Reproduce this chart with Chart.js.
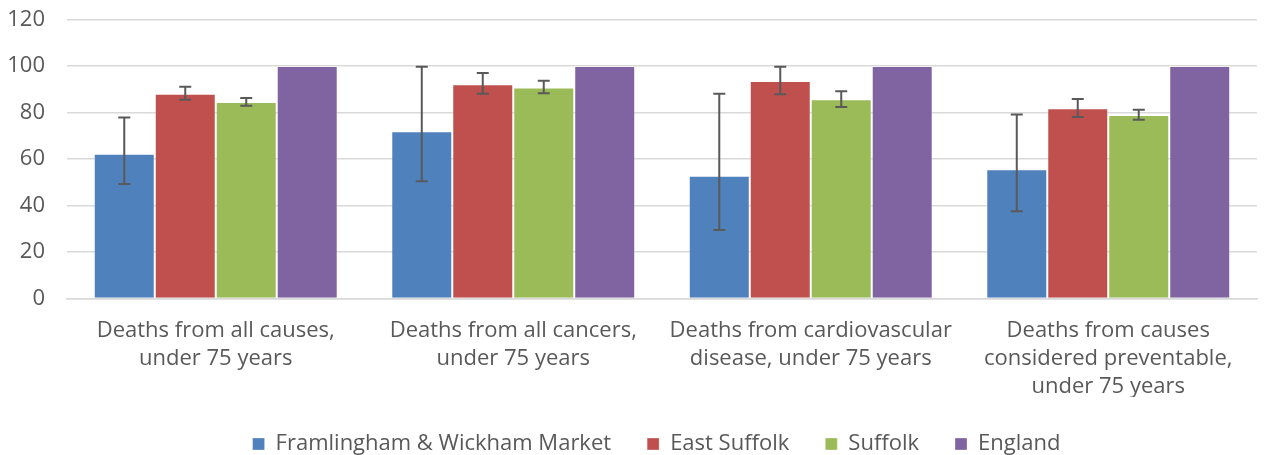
<!DOCTYPE html>
<html>
<head>
<meta charset="utf-8">
<script src="https://cdn.jsdelivr.net/npm/chart.js@4/dist/chart.umd.min.js"></script>
<style>
  html, body { margin: 0; padding: 0; background: #fff; }
  #wrap { width: 1285px; height: 455px; }
</style>
</head>
<body>
<div id="wrap"><canvas id="chart" width="1285" height="455"></canvas></div>
<script>
// categories (multi-line labels)
const categories = [
	['Deaths from all causes,', 'under 75 years'],
	['Deaths from all cancers,', 'under 75 years'],
	['Deaths from cardiovascular', 'disease, under 75 years'],
	['Deaths from causes', 'considered preventable,', 'under 75 years']
];

const seriesNames = ['Framlingham & Wickham Market', 'East Suffolk', 'Suffolk', 'England'];

// values
const framlingham = [62.3, 71.9, 52.8, 55.6];
const eastSuffolk = [88.1, 92.1, 93.5, 81.8];
const suffolk = [84.5, 90.8, 85.7, 78.9];
const england = [100, 100, 100, 100];

// confidence intervals
const framlinghamLow = [49.2, 50.4, 29.5, 37.5];
const framlinghamHigh = [77.9, 99.7, 88.1, 79.1];
const eastSuffolkLow = [85.5, 88.1, 87.8, 78.1];
const eastSuffolkHigh = [91.1, 97.0, 99.7, 85.8];
const suffolkLow = [82.9, 88.3, 82.4, 76.9];
const suffolkHigh = [86.2, 93.7, 89.1, 81.2];

const yTicks = [0, 20, 40, 60, 80, 100, 120];

const colors = ['#4F81BD', '#C0504D', '#9BBB59', '#8064A2'];

const errorBars = {
	id: 'errorBars',
	afterDatasetsDraw(chart){
		const ctx = chart.ctx;
		const y = chart.scales.y;
		ctx.save();
		ctx.strokeStyle = '#595959';
		ctx.lineWidth = 2;
		chart.data.datasets.forEach((ds, i) => {
			if(!ds.errLow) return;
			const meta = chart.getDatasetMeta(i);
			meta.data.forEach((bar, j) => {
				const x = bar.x;
				const top = y.getPixelForValue(ds.errHigh[j]);
				const bottom = y.getPixelForValue(ds.errLow[j]);
				ctx.beginPath();
				ctx.moveTo(x, top); ctx.lineTo(x, bottom);
				ctx.moveTo(x - 6, top); ctx.lineTo(x + 6, top);
				ctx.moveTo(x - 6, bottom); ctx.lineTo(x + 6, bottom);
				ctx.stroke();
			});
		});
		ctx.restore();
	}
};

// squeeze the legend box so it sits near the bottom edge, and nudge it right
const legendFit = {
	id: 'legendFit',
	beforeInit(chart){
		const orig = chart.legend.fit;
		chart.legend.fit = function(){
			orig.bind(chart.legend)();
			this.height = 58;
		};
	},
	afterLayout(chart){
		chart.legend.left += 25;
		chart.legend.right += 25;
	}
};

function makeSet(i, data, low, high){
	return {
		label: seriesNames[i],
		data: data,
		errLow: low,
		errHigh: high,
		backgroundColor: colors[i],
		borderColor: 'rgba(255,255,255,0.3)',
		borderWidth: 1,
		categoryPercentage: 0.82,
		barPercentage: 1.0
	};
}

Chart.defaults.font.family = '"Open Sans", sans-serif';
Chart.defaults.color = '#595959';

new Chart(document.getElementById('chart'), {
	type: 'bar',
	data: {
		labels: categories,
		datasets: [
			makeSet(0, framlingham, framlinghamLow, framlinghamHigh),
			makeSet(1, eastSuffolk, eastSuffolkLow, eastSuffolkHigh),
			makeSet(2, suffolk, suffolkLow, suffolkHigh),
			makeSet(3, england, null, null)
		]
	},
	options: {
		responsive: false,
		animation: false,
		layout: { padding: { top: 0, right: 28, left: 6, bottom: 0 } },
		plugins: {
			tooltip: { enabled: false },
			legend: {
				position: 'bottom',
				labels: {
					boxWidth: 12,
					boxHeight: 12,
					padding: 36,
					font: { size: 22 },
					color: '#595959'
				}
			}
		},
		scales: {
			x: {
				grid: { display: false },
				border: { color: '#d9d9d9', width: 1.5 },
				ticks: { font: { size: 22, lineHeight: 1.27 }, color: '#595959', maxRotation: 0, padding: 10 },
				afterFit(axis){ axis.height = 98.5; }
			},
			y: {
				min: 0,
				max: 120,
				afterBuildTicks(axis){ axis.ticks = yTicks.map(v => ({ value: v })); },
				grid: { color: '#d9d9d9', lineWidth: 1.5, drawTicks: false },
				border: { display: false },
				ticks: { font: { size: 22 }, color: '#595959', padding: 22 },
				afterFit(axis){
					axis.width = 61;
					axis.paddingTop = 19.5;
					axis.paddingBottom = 13;
				}
			}
		}
	},
	plugins: [errorBars, legendFit]
});
</script>
</body>
</html>
